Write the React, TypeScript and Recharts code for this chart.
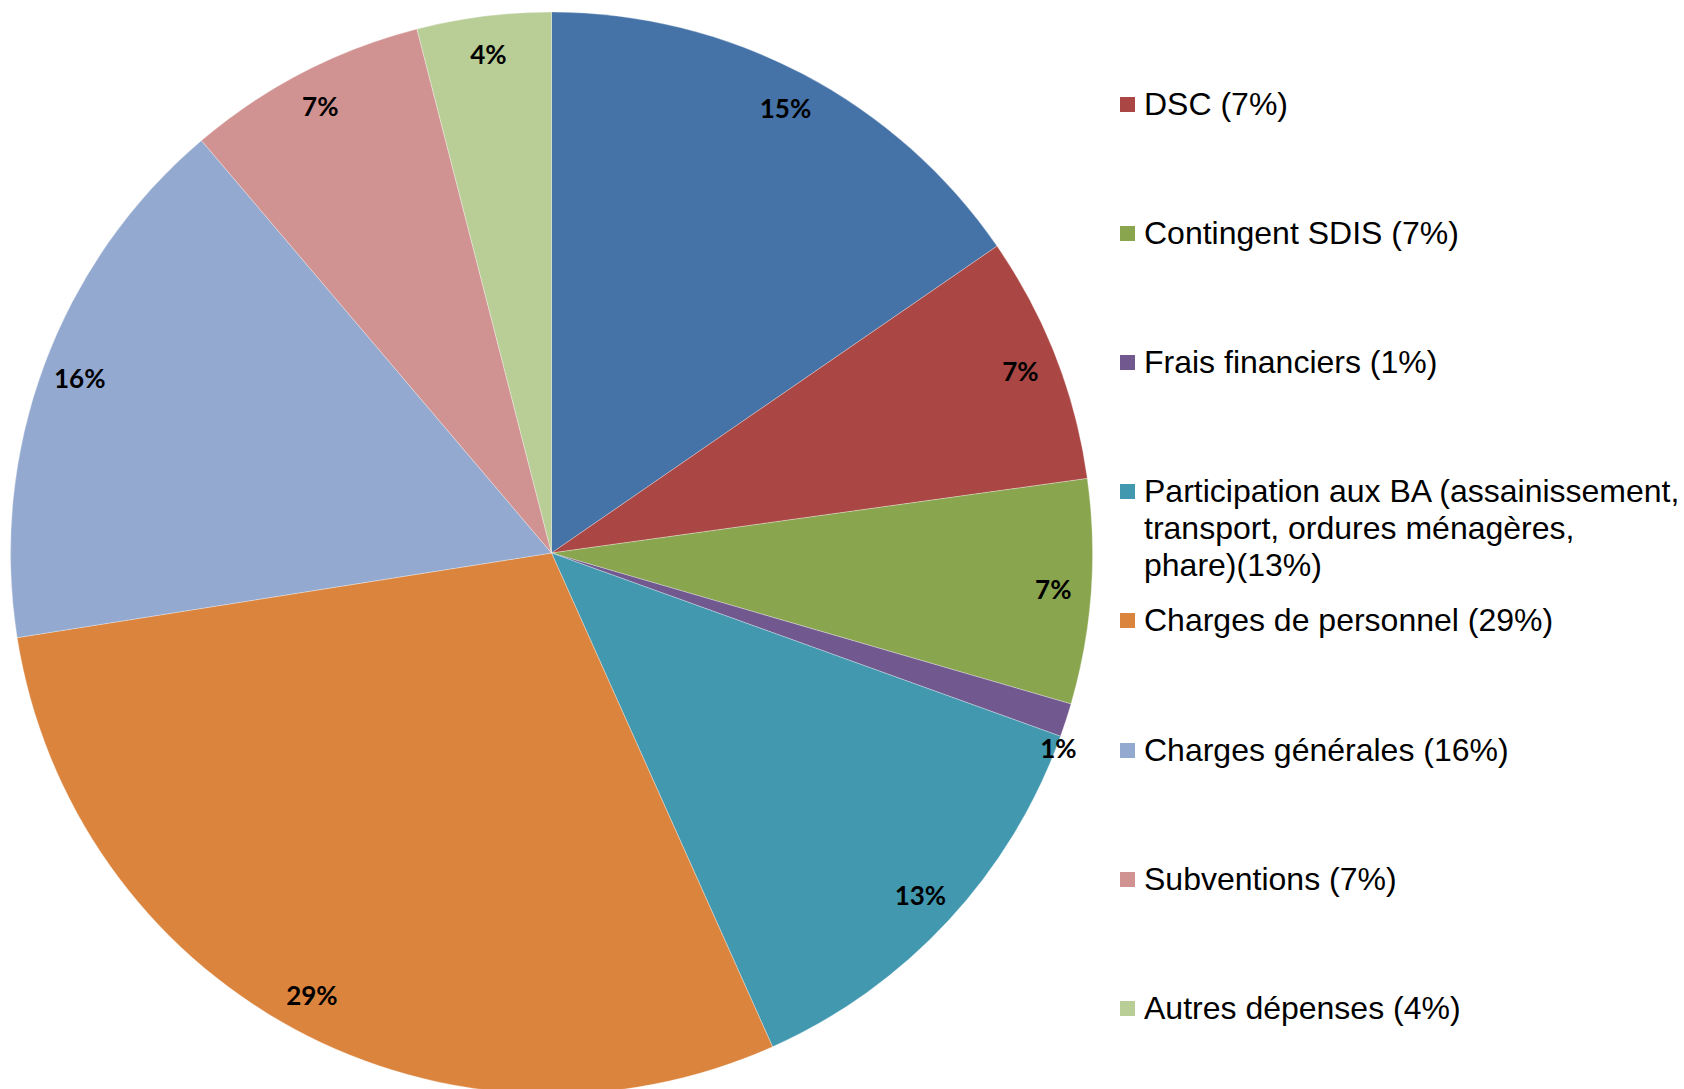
import { PieChart, Pie, Cell, Legend } from 'recharts';

// slice names, clockwise from 12 o'clock (the first legend entry falls above the frame)
const categories = [
  'Autres charges (15%)',
  'DSC (7%)',
  'Contingent SDIS (7%)',
  'Frais financiers (1%)',
  'Participation aux BA (assainissement,\ntransport, ordures ménagères,\nphare)(13%)',
  'Charges de personnel (29%)',
  'Charges générales (16%)',
  'Subventions (7%)',
  'Autres dépenses (4%)',
];
const shares = [15.4, 7.4, 6.7, 1.0, 12.8, 29.2, 16.3, 7.2, 4.0];
const colors = [
  '#4572A7',
  '#AA4643',
  '#89A54E',
  '#71588F',
  '#4198AF',
  '#DB843D',
  '#93A9CF',
  '#D19392',
  '#B9CD96',
];

const data = categories.map((name, i) => ({ name, value: shares[i] }));

const RADIAN = Math.PI / 180;

function renderLabel(props: any) {
  const { cx, cy, midAngle, outerRadius, percent } = props;
  const small = percent < 0.02;
  const r = small ? outerRadius + 2 : outerRadius * 0.93;
  const a = small ? midAngle - 3 : midAngle;
  const x = cx + r * Math.cos(-a * RADIAN);
  const y = cy + r * Math.sin(-a * RADIAN);
  return (
    <text
      x={x}
      y={y}
      textAnchor="middle"
      dominantBaseline="central"
      fill="#000"
      fontFamily="Lato, 'Open Sans', sans-serif"
      fontWeight={700}
      fontSize={26}
    >
      {Math.round(percent * 100)}%
    </text>
  );
}

function renderLegend() {
  return (
    <div style={{ position: 'relative', width: 1684, height: 1089 }}>
      {categories.slice(1).map((name, i) => {
        const mid = 104 + i * 129.2;
        return (
          <div key={name} style={{ position: 'absolute', left: 1120, top: mid - 18.5 }}>
            <div
              style={{
                position: 'absolute',
                left: 0,
                top: 11,
                width: 15,
                height: 15,
                background: colors[i + 1],
              }}
            />
            <div
              style={{
                position: 'absolute',
                left: 24,
                top: 0,
                whiteSpace: 'pre',
                fontFamily: "'Liberation Sans', Arial, sans-serif",
                fontSize: 32,
                lineHeight: '37px',
                color: '#000',
              }}
            >
              {name}
            </div>
          </div>
        );
      })}
    </div>
  );
}

export default function App() {
  return (
    <div style={{ position: 'absolute', left: 0, top: 0, width: 1684, height: 1089, background: '#fff', overflow: 'hidden' }}>
      <PieChart width={1684} height={1089} margin={{ top: 0, right: 0, bottom: 0, left: 0 }}>
        <Pie
          data={data}
          dataKey="value"
          nameKey="name"
          cx={551.5}
          cy={553}
          outerRadius={541}
          startAngle={90}
          endAngle={-270}
          label={renderLabel}
          labelLine={false}
          stroke="#ffffff"
          strokeWidth={0.6}
          strokeOpacity={0.5}
          isAnimationActive={false}
        >
          {data.map((d, i) => (
            <Cell key={d.name} fill={colors[i]} />
          ))}
        </Pie>
        <Legend
          content={renderLegend}
          wrapperStyle={{ position: 'absolute', left: 0, top: 0, width: 1684, height: 1089 }}
        />
      </PieChart>
    </div>
  );
}
